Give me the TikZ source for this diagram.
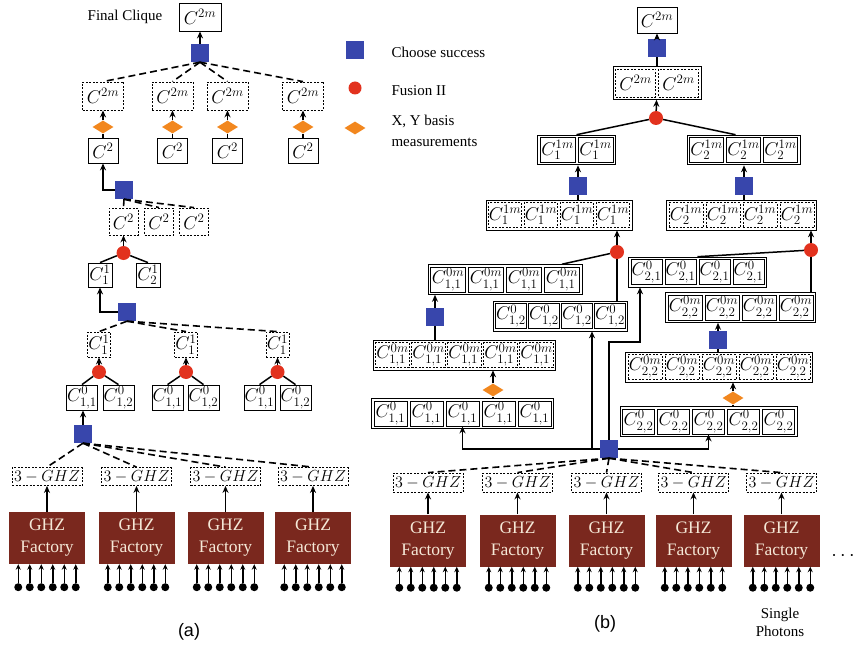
\RequirePackage{fix-cm}
\documentclass[tikz,border=0pt]{standalone}
\usepackage[no-math]{fontspec}
\setmainfont{Liberation Serif}
\newfontfamily\labfont{Liberation Sans}
\usetikzlibrary{arrows.meta,fit,shapes.geometric,calc}
\definecolor{sqblue}{RGB}{56,70,172}
\definecolor{fusred}{RGB}{226,50,30}
\definecolor{xyorange}{RGB}{242,135,30}
\definecolor{factred}{RGB}{122,40,30}
\definecolor{factext}{RGB}{245,232,215}
\tikzset{
 conn/.style={line width=1.5pt},
 arr/.style={line width=1.5pt,-{Stealth[length=7pt,width=6pt]}},
 phar/.style={line width=1.5pt,-{Stealth[length=5.5pt,width=5pt]}},
 dconn/.style={line width=1.6pt,dash pattern=on 7pt off 4pt},
 mbox/.style={draw,line width=0.8pt,inner sep=0.5pt,minimum height=25pt,font=\fontsize{18.5}{18.5}\selectfont},
 dmbox/.style={mbox,dash pattern=on 2pt off 1.5pt},
 frame/.style={draw,line width=0.8pt,inner sep=2pt},
 chsq/.style={fill=sqblue,minimum size=18pt,inner sep=0pt},
 fus/.style={circle,fill=fusred,minimum size=14pt,inner sep=0pt},
 xy/.style={diamond,fill=xyorange,minimum width=21pt,minimum height=13pt,inner sep=0pt},
 ghzbox/.style={draw,dash pattern=on 2pt off 1.5pt,line width=0.8pt,minimum width=70pt,minimum height=18pt,inner sep=0pt,font=\fontsize{16}{16}\selectfont},
 factory/.style={fill=factred,minimum width=76pt,minimum height=52pt,text=factext,align=center,font=\fontsize{17.5}{22}\selectfont},
 photon/.style={circle,fill=black,minimum size=8pt,inner sep=0pt},
 legtxt/.style={font=\fontsize{15}{21}\selectfont},
 captxt/.style={font=\labfont\fontsize{18}{20}\selectfont},
}
\newcommand\grp[7]{%
 \foreach \i in {1,...,#4}{%
   \node[#6,minimum width=#5pt] (#1-\i) at ({#2+(\i-(#4+1)/2)*(#5+3)},#3) {#7};
 }%
 \node[frame,fit=(#1-1)(#1-#4)] (#1) {};
}
\begin{document}
\begin{tikzpicture}[x=1pt,y=-1pt]
\useasboundingbox (0,0) rectangle (856,647);
% ---------------- (a) ----------------
\node[mbox,minimum width=42pt,minimum height=28pt] (aTop) at (200,17) {$C^{2m}$};
\node[legtxt] (aTitle) at (125,17) {Final Clique};
\node[chsq] (aS1) at (200,53) {};
\draw[arr] (aS1) -- (aTop);
\foreach \k/\x in {1/103,2/172.5,3/227.5,4/303}{
 \node[dmbox,minimum width=41pt,minimum height=28pt] (aD\k) at (\x,96) {$C^{2m}$};
 \node[xy] (aX\k) at (\x,127) {};
 \node[mbox,minimum width=30pt] (aC\k) at (\x,150.5) {$C^2$};
 \draw[dconn] (aS1.south) -- (aD\k.north);
 \draw[conn] (aC\k) -- (aX\k);
 \draw[arr] (aX\k) -- (aD\k);
}
\node[chsq] (aS2) at (124,190) {};
\draw[arr] (aS2.west) -| (aC1.south);
\foreach \k/\x in {1/123.5,2/159,3/194}{
  \node[dmbox,minimum width=29pt,minimum height=27pt] (aE\k) at (\x,221.5) {$C^2$};
  \draw[dconn] (aS2.south) -- (aE\k.north);
}
\node[fus] (aF) at (123.5,253) {};
\draw[arr] (aF) -- (aE1);
\node[mbox,minimum width=24pt,minimum height=24pt] (aG1) at (100,275) {$C^1_1$};
\node[mbox,minimum width=24pt,minimum height=24pt] (aG2) at (148,275) {$C^1_2$};
\draw[conn] (aF) -- (aG1.north);
\draw[conn] (aF) -- (aG2.north);
\node[chsq] (aS3) at (127,312) {};
\draw[arr] (aS3.west) -| (aG1.south);
\foreach \k/\x/\l/\r in {1/99/82/118.5,2/186/167.5/203.5,3/277.5/259.5/295.5}{
 \node[dmbox,minimum width=23pt] (aH\k) at (\x,344.5) {$C^1_1$};
 \node[fus] (aI\k) at (\x,372) {};
 \node[mbox,minimum width=31pt] (aJ\k-1) at (\l,397.5) {$C^0_{1,1}$};
 \node[mbox,minimum width=31pt] (aJ\k-2) at (\r,397.5) {$C^0_{1,2}$};
 \draw[dconn] (aS3.south) -- (aH\k.north);
 \draw[arr] (aI\k) -- (aH\k);
 \draw[conn] (aI\k) -- (aJ\k-1.north);
 \draw[conn] (aI\k) -- (aJ\k-2.north);
}
\node[chsq] (aS4) at (83,434) {};
\draw[arr] (aS4) -- (aS4 |- aJ1-1.south);
\foreach \k/\x in {1/47,2/136.5,3/225.5,4/313}{
  \node[factory] (aFac\k) at (\x,538) {GHZ\\Factory};
  \node[ghzbox] (aGhz\k) at (\x,476.5) {$3-GHZ$};
  \draw[arr] (aFac\k) -- (aGhz\k);
  \draw[dconn] (aS4.south) -- (aGhz\k.north);
  \foreach \j/\o in {1/-28.75,2/-17.25,3/-5.75,4/5.75,5/17.25,6/28.75}{
    \node[photon] (aPh\k\j) at ($(aFac\k.south)+(\o,23)$) {};
    \draw[phar] (aPh\k\j) -- (aPh\k\j |- aFac\k.south);
  }
}
\node[captxt] (capA) at (189,632) {(a)};
% ---------------- legend ----------------
\node[chsq] (lg1) at (355,50) {};
\node[legtxt,anchor=west] (lt1) at (388,52) {Choose success};
\node[fus,minimum size=13pt] (lg2) at (355,88) {};
\node[legtxt,anchor=west] (lt2) at (388,91) {Fusion II};
\node[xy] (lg3) at (355,128) {};
\node[legtxt,anchor=west,align=left] (lt3) at (388,131) {X, Y basis\\measurements};
% ---------------- (b) ----------------
\node[mbox,minimum width=40pt,minimum height=26pt] (bTop) at (657,20) {$C^{2m}$};
\node[chsq] (bS1) at (657,48) {};
\grp{bG2m}{657}{83}{2}{40}{dmbox,minimum height=28pt}{$C^{2m}$}
\node[fus] (bF1) at (656,118) {};
\grp{bA}{576.5}{150}{2}{35}{mbox}{$C_1^{1m}$}
\grp{bB}{743.5}{150}{3}{34}{mbox}{$C_2^{1m}$}
\node[chsq] (bS2) at (578,186) {};
\node[chsq] (bS3) at (744,186) {};
\grp{bC}{559}{215}{4}{33}{dmbox}{$C_1^{1m}$}
\grp{bD}{741.5}{215}{4}{34}{dmbox}{$C_2^{1m}$}
\node[fus] (bF2) at (617,252) {};
\node[fus] (bF3) at (811,250) {};
\grp{bE}{505}{279.5}{4}{35}{mbox}{$C^{0m}_{1,1}$}
\grp{bH}{560.5}{316}{4}{30}{mbox}{$C^{0}_{1,2}$}
\grp{bI}{697.5}{272}{4}{31}{mbox}{$C^{0}_{2,1}$}
\grp{bJ}{740.5}{307.5}{4}{34}{mbox}{$C^{0m}_{2,2}$}
\node[chsq] (bS4) at (435,317) {};
\node[chsq] (bS5) at (718,340) {};
\grp{bK}{464.5}{355}{5}{33}{dmbox}{$C^{0m}_{1,1}$}
\node[xy] (bX1) at (493,390) {};
\grp{bL}{462.5}{413.5}{5}{33}{mbox}{$C^{0}_{1,1}$}
\grp{bM}{719}{367}{5}{34}{dmbox}{$C^{0m}_{2,2}$}
\node[xy] (bX2) at (733,398) {};
\grp{bN}{708.5}{421.5}{5}{32}{mbox}{$C^{0}_{2,2}$}
\node[chsq] (bS6) at (609,449) {};
\coordinate (bj1) at (592,449);
\coordinate (bj2) at (640,342);
% connectors (b)
\draw[arr] (bS1) -- (bTop);
\draw[conn] (bS1) -- (bG2m);
\draw[arr] (bF1) -- (bG2m);
\draw[conn] (bF1) -- (bA.north);
\draw[conn] (bF1) -- ($(bB.north)+(-8,0)$);
\draw[arr] (bS2) -- (bS2 |- bA.south);
\draw[conn] (bS2) -- (bS2 |- bC.north);
\draw[arr] (bS3) -- (bS3 |- bB.south);
\draw[conn] (bS3) -- (bS3 |- bD.north);
\draw[arr] (bF2) -- (bF2 |- bC.south);
\draw[conn] (bF2) -- (bE-4 |- bE.north);
\draw[conn] (bF2) -- (bF2 |- bH.north);
\draw[arr] (bF3) -- (bF3 |- bD.south);
\draw[conn] (bF3) -- (bI.north);
\draw[conn] (bF3) -- (bF3 |- bJ.north);
\draw[arr] (bS4) -- (bS4 |- bE.south);
\draw[conn] (bS4) -- (bS4 |- bK.north);
\draw[arr] (bX1) -- (bX1 |- bK.south);
\draw[conn] (bX1) -- (bX1 |- bL.north);
\draw[arr] (bS5) -- (bS5 |- bJ.south);
\draw[conn] (bS5) -- (bS5 |- bM.north);
\draw[arr] (bX2) -- (bX2 |- bM.south);
\draw[conn] (bX2) -- (bX2 |- bN.north);
\draw[arr] (bS6.west) -| (bL-3.south);
\draw[arr] (bS6.east) -| (bN-3.south);
\draw[arr] (bj1) -- (bj1 |- bH.south);
\draw[arr] (bS6.north) |- (bj2) -- (bj2 |- bI.south);
\foreach \k/\x in {1/428,2/517.5,3/606.5,4/693.5,5/781.5}{
  \node[factory] (bFac\k) at (\x,540.5) {GHZ\\Factory};
  \node[ghzbox,minimum height=19pt] (bGhz\k) at (\x,482.5) {$3-GHZ$};
  \draw[arr] (bFac\k) -- (bGhz\k);
  \draw[dconn] (bS6.south) -- (bGhz\k.north);
  \foreach \j/\o in {1/-28.75,2/-17.25,3/-5.75,4/5.75,5/17.25,6/28.75}{
    \node[photon] (bPh\k\j) at ($(bFac\k.south)+(\o,21)$) {};
    \draw[phar] (bPh\k\j) -- (bPh\k\j |- bFac\k.south);
  }
}
\node[font=\fontsize{20}{20}\selectfont] (bDots) at (843,556) {$\cdots$};
\node[legtxt,align=center,font=\fontsize{15}{18}\selectfont] (bSP) at (780,622) {Single\\Photons};
\node[captxt] (capB) at (605,624) {(b)};
\end{tikzpicture}
\end{document}
